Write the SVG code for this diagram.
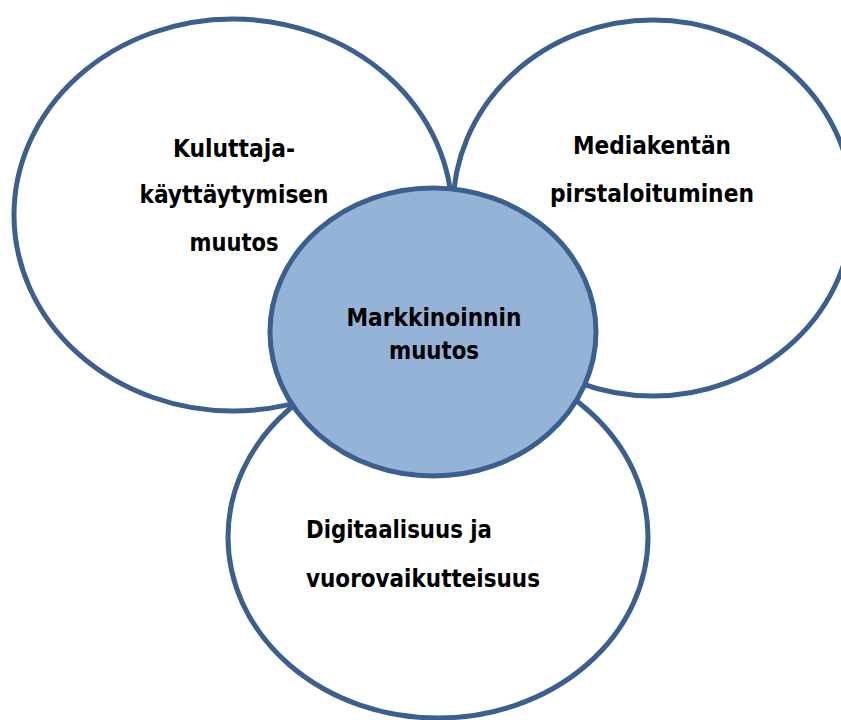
<svg xmlns="http://www.w3.org/2000/svg" width="841" height="720" viewBox="0 0 841 720">
  <style>
    .bubble { fill: #ffffff; stroke: #3B5F8F; stroke-width: 5; }
    .core { fill: #95B3D7; stroke: #3B5F8F; stroke-width: 5; }
    .label { font-family: "DejaVu Sans", Tahoma, sans-serif; font-stretch: condensed; font-weight: bold; font-size: 24px; fill: #000000; }
    .mid { text-anchor: middle; }
  </style>
  <rect width="841" height="720" fill="#ffffff"/>
  <g id="connectors"/>
  <g id="kuluttaja">
    <ellipse class="bubble" cx="233" cy="215" rx="219" ry="196"/>
    <text class="label mid" x="234" y="157" textLength="122" lengthAdjust="spacingAndGlyphs">Kuluttaja-</text>
    <text class="label mid" x="234" y="203" textLength="189" lengthAdjust="spacingAndGlyphs">käyttäytymisen</text>
    <text class="label mid" x="234" y="251" textLength="89" lengthAdjust="spacingAndGlyphs">muutos</text>
  </g>
  <g id="mediakentta">
    <ellipse class="bubble" cx="653" cy="208" rx="200" ry="188"/>
    <text class="label mid" x="652" y="154" textLength="158" lengthAdjust="spacingAndGlyphs">Mediakentän</text>
    <text class="label mid" x="652" y="202" textLength="204" lengthAdjust="spacingAndGlyphs">pirstaloituminen</text>
  </g>
  <g id="digitaalisuus">
    <ellipse class="bubble" cx="438" cy="537" rx="210" ry="181"/>
    <text class="label" x="306" y="538" textLength="186" lengthAdjust="spacingAndGlyphs">Digitaalisuus ja</text>
    <text class="label" x="306" y="587" textLength="234" lengthAdjust="spacingAndGlyphs">vuorovaikutteisuus</text>
  </g>
  <g id="markkinointi">
    <ellipse class="core" cx="433" cy="332" rx="163" ry="144"/>
    <text class="label mid" x="434" y="326" textLength="175" lengthAdjust="spacingAndGlyphs">Markkinoinnin</text>
    <text class="label mid" x="434" y="359" textLength="90" lengthAdjust="spacingAndGlyphs">muutos</text>
  </g>
</svg>
